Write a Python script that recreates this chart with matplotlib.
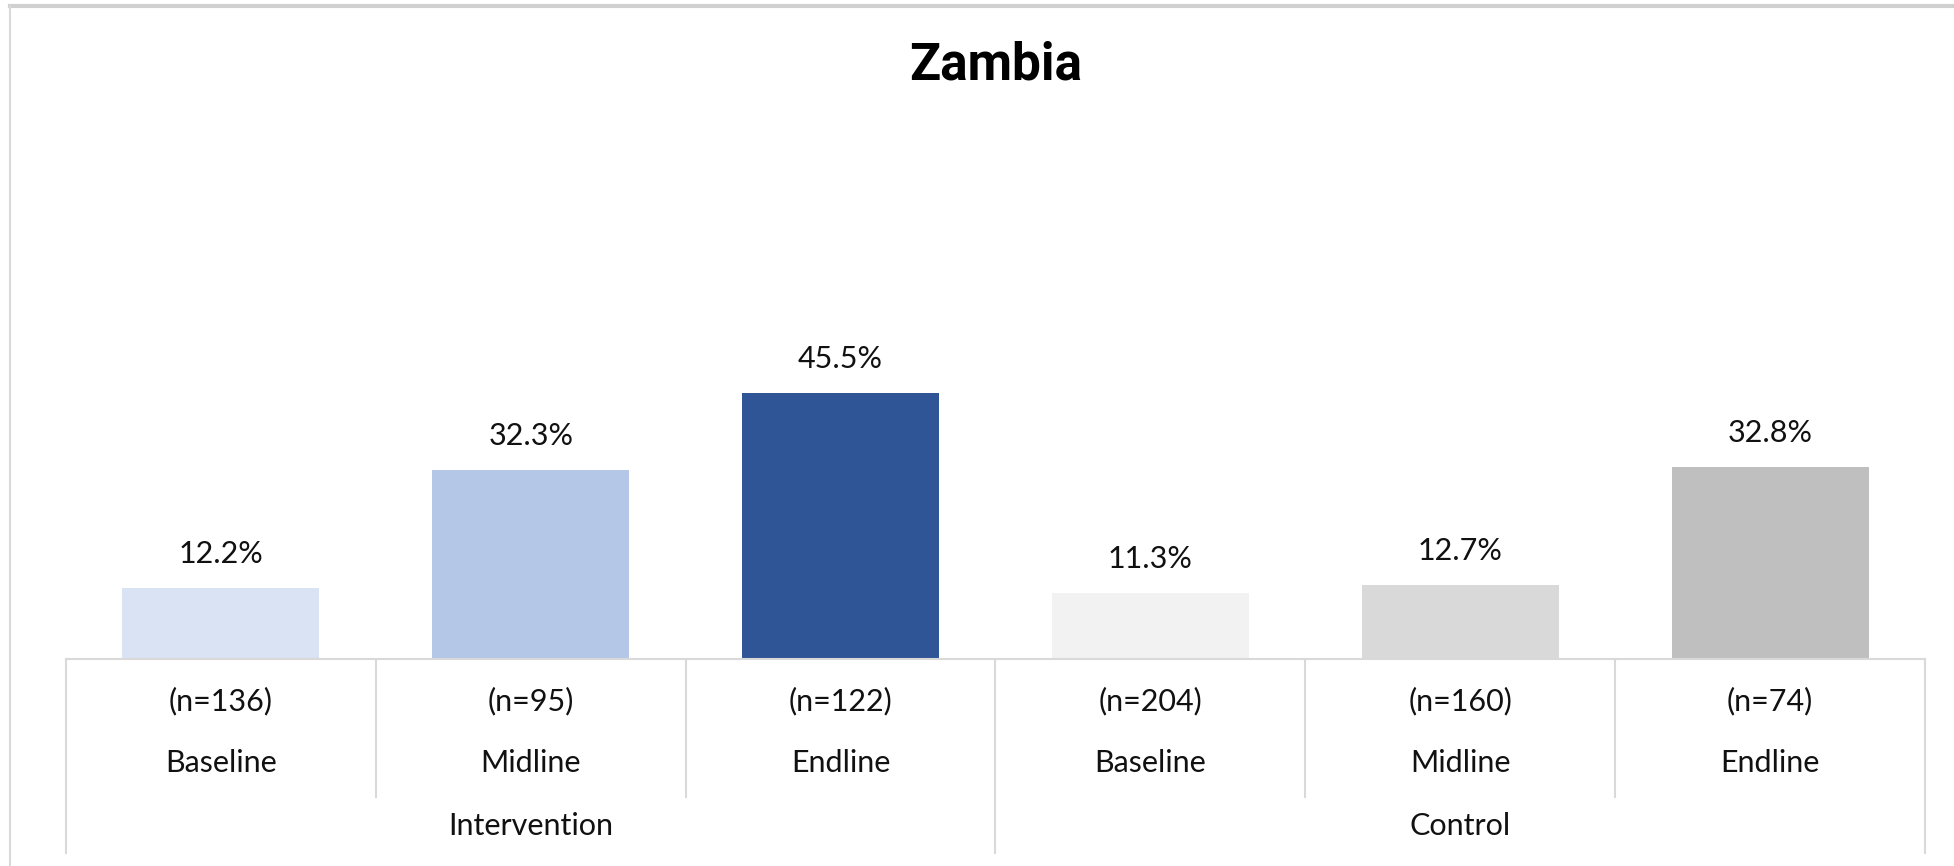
import matplotlib
matplotlib.use("Agg")
import matplotlib.pyplot as plt
from matplotlib.lines import Line2D

body_font = ["Lato", "DejaVu Sans"]

groups = ["Intervention", "Control"]
phases = ["Baseline", "Midline", "Endline", "Baseline", "Midline", "Endline"]
n_labels = ["(n=136)", "(n=95)", "(n=122)", "(n=204)", "(n=160)", "(n=74)"]
values = [12.2, 32.3, 45.5, 11.3, 12.7, 32.8]
colors = ["#DAE3F3", "#B4C7E7", "#2F5597", "#F2F2F2", "#D9D9D9", "#BFBFBF"]

W, H = 1954, 866
fig = plt.figure(figsize=(W / 100, H / 100), dpi=100)
fig.patch.set_facecolor("white")

ax_left = 66 / W
ax_right = 1925 / W
base_px = 659
ax_h_px = 410
ax = fig.add_axes([ax_left, (H - base_px) / H, ax_right - ax_left, ax_h_px / H])

x = list(range(len(values)))
ax.bar(x, values, width=0.636, color=colors, zorder=2)
ax.set_xlim(-0.5, len(values) - 0.5)
ax.set_ylim(0, 70)
for s in ["top", "left", "right"]:
    ax.spines[s].set_visible(False)
ax.spines["bottom"].set_color("#D9D9D9")
ax.spines["bottom"].set_linewidth(1.5)
ax.set_yticks([])
ax.set_xticks([])

txt_color = "#111111"
for xi, v in zip(x, values):
    ax.annotate(f"{v:.1f}%", (xi, v), xytext=(0, 34), textcoords="offset pixels",
                ha="center", va="center", fontsize=22, family=body_font, color=txt_color)

trans = ax.get_xaxis_transform()
def yf(px):
    return -px / ax_h_px

for i in range(len(values) + 1):
    xpos = i - 0.5
    y_end = yf(194) if i in (0, 3, 6) else yf(138)
    ax.add_line(Line2D([xpos, xpos], [0, y_end], transform=trans, color="#D9D9D9",
                       lw=1.5, clip_on=False))

for xi, nl, ph in zip(x, n_labels, phases):
    ax.text(xi, yf(42), nl, transform=trans, ha="center", va="center",
            fontsize=22, family=body_font, color=txt_color)
    ax.text(xi, yf(104), ph, transform=trans, ha="center", va="center",
            fontsize=22, family=body_font, color=txt_color)

for gi, g in enumerate(groups):
    ax.text(gi * 3 + 1, yf(167), g, transform=trans, ha="center", va="center",
            fontsize=22, family=body_font, color=txt_color)

fig.text(0.5 * (ax_left + ax_right), 1 - 66 / H, "Zambia", ha="center", va="center",
         fontsize=37, fontweight="bold", family="Roboto", color="black")

fig.add_artist(Line2D([10 / W, 1], [1 - 6 / H, 1 - 6 / H], transform=fig.transFigure,
                      color="#D0D0D0", lw=3))
fig.add_artist(Line2D([10 / W, 10 / W], [0, 1 - 6 / H], transform=fig.transFigure,
                      color="#D9D9D9", lw=1.5))

fig.savefig("out.png", dpi=100)
